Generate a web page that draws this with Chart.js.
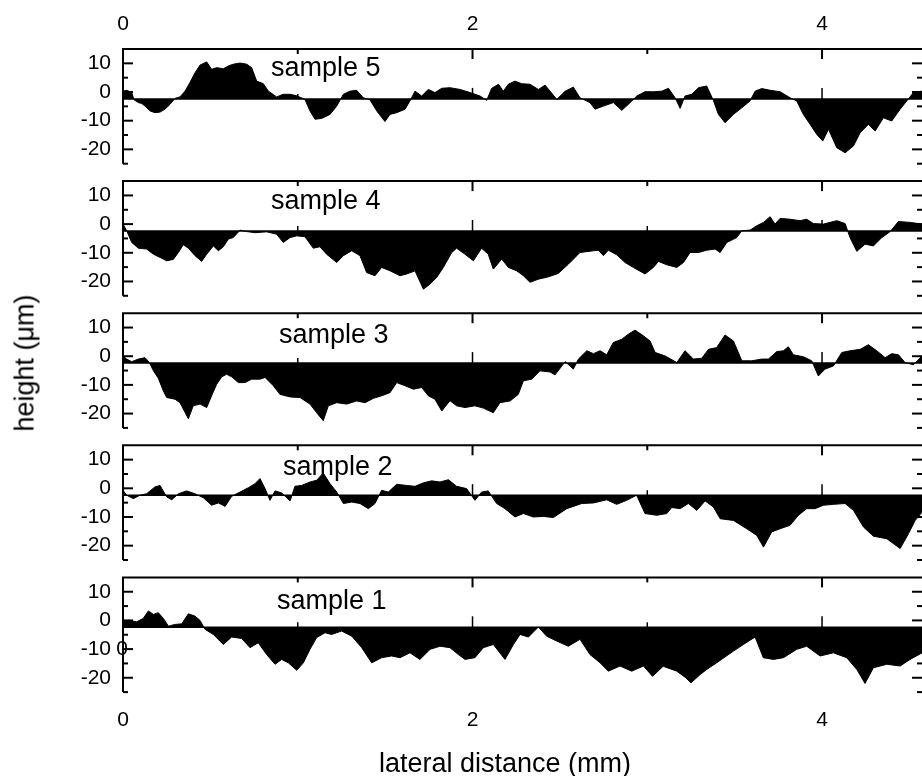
<!DOCTYPE html>
<html>
<head>
<meta charset="utf-8">
<title>surface height profiles</title>
<script src="https://cdn.jsdelivr.net/npm/chart.js@4.4.1/dist/chart.umd.min.js"></script>
<style>
  html, body { margin: 0; padding: 0; background: #fff; }
  #wrap { position: relative; width: 922px; height: 776px; overflow: hidden; }
  #wrap canvas { position: absolute; left: 0; top: 0; }
  .axis-title { position: absolute; font: 27px "Liberation Sans", Arial, sans-serif; line-height: 27px; color: #000; white-space: nowrap; }
  #xtitle { left: 505px; top: 750px; transform: translateX(-50%); }
  #ytitle { left: 25px; top: 363px; transform: translate(-50%, -50%) rotate(-90deg); }
</style>
</head>
<body>
<div id="wrap">
  <canvas id="c0" width="922" height="776"></canvas>
  <canvas id="c1" width="922" height="776"></canvas>
  <canvas id="c2" width="922" height="776"></canvas>
  <canvas id="c3" width="922" height="776"></canvas>
  <canvas id="c4" width="922" height="776"></canvas>
  <div id="ytitle" class="axis-title">height (μm)</div>
  <div id="xtitle" class="axis-title">lateral distance (mm)</div>
</div>
<script>
// profile data, lateral distance in mm, height in um
const sampleNames = ['sample 1', 'sample 2', 'sample 3', 'sample 4', 'sample 5'];

const dist1 = [0, 0.04, 0.078, 0.116, 0.145, 0.174, 0.202, 0.231, 0.26, 0.298, 0.336, 0.374, 0.412, 0.441, 0.469, 0.517, 0.574, 0.622, 0.679, 0.727, 0.774, 0.822, 0.87, 0.908, 0.946, 0.994, 1.032, 1.07, 1.108, 1.156, 1.194, 1.251, 1.309, 1.366, 1.423, 1.48, 1.537, 1.585, 1.642, 1.699, 1.757, 1.814, 1.871, 1.919, 1.957, 2.014, 2.062, 2.119, 2.186, 2.234, 2.272, 2.32, 2.377, 2.424, 2.482, 2.548, 2.615, 2.672, 2.73, 2.777, 2.844, 2.911, 2.978, 3.03, 3.091, 3.169, 3.22, 3.25, 3.3, 3.34, 3.397, 3.493, 3.55, 3.617, 3.664, 3.722, 3.779, 3.855, 3.912, 3.989, 4.065, 4.141, 4.199, 4.246, 4.294, 4.371, 4.447, 4.504, 4.573];
const height1 = [-0.2, 0, -0.5, 0.7, 3.3, 2.1, 2.7, 0.7, -2, -1.4, -1.2, 2.3, 1.5, 0, -3.1, -4.9, -8.4, -5.8, -6.3, -9.5, -7.8, -11.9, -15.3, -13.6, -14.8, -17.4, -14.8, -10.1, -6, -4.3, -4.9, -3.7, -5.5, -9.5, -14.8, -13, -12.4, -13, -11.3, -13.6, -10.1, -9, -9.5, -11.9, -13.6, -13, -9.5, -8.4, -13.6, -8.4, -4.9, -5.8, -2.3, -5.5, -7.2, -9, -6.6, -11.9, -14.8, -17.7, -15.9, -17.7, -15.9, -19.5, -16, -17.7, -20, -21.8, -19, -17.1, -14.8, -10.7, -8.4, -5.8, -13, -13.6, -13, -10.1, -9, -12.4, -11.3, -13, -17.1, -22, -16.5, -15.3, -15.9, -13.6, -11.3];

const dist2 = [0, 0.021, 0.059, 0.097, 0.135, 0.183, 0.212, 0.25, 0.279, 0.317, 0.364, 0.412, 0.46, 0.507, 0.546, 0.584, 0.622, 0.67, 0.717, 0.755, 0.784, 0.813, 0.841, 0.87, 0.908, 0.956, 0.984, 1.022, 1.07, 1.108, 1.146, 1.185, 1.223, 1.261, 1.309, 1.356, 1.404, 1.442, 1.48, 1.518, 1.566, 1.623, 1.671, 1.719, 1.766, 1.814, 1.862, 1.909, 1.966, 2.014, 2.052, 2.09, 2.138, 2.186, 2.243, 2.291, 2.348, 2.406, 2.463, 2.539, 2.625, 2.692, 2.768, 2.825, 2.882, 2.939, 2.987, 3.054, 3.112, 3.14, 3.188, 3.235, 3.283, 3.331, 3.378, 3.417, 3.493, 3.569, 3.626, 3.665, 3.712, 3.76, 3.817, 3.865, 3.912, 3.96, 4.008, 4.065, 4.132, 4.18, 4.237, 4.294, 4.371, 4.447, 4.495, 4.533, 4.573];
const height2 = [-0.7, -2.4, -3.6, -2.4, -1.9, 0.5, 1, -3, -4, -1.9, -0.9, -1.9, -3.3, -5.9, -5.1, -6.3, -2.8, -1.3, 0.2, 1.6, 3.4, -0.1, -4.2, -0.9, -1.6, -4.4, 0.7, 1, 2.2, 2.8, 5.3, 1.6, -1.3, -5.3, -4.8, -5.3, -7.1, -5.3, -0.7, -1.3, 1.4, 1, 0.7, 1.9, 2.6, 2.2, 3, 0.7, -0.1, -4.2, -1.3, -0.9, -5.3, -7.1, -10, -8.8, -10, -9.8, -10.2, -7.1, -5.3, -5.1, -4, -5.6, -4.2, -2.4, -8.8, -9.4, -8.8, -6.7, -7.1, -5.3, -7.7, -4.4, -6.5, -10.6, -11.2, -14.1, -16.4, -20.5, -15.2, -14.1, -12.9, -9.4, -7.1, -7.1, -5.9, -5.6, -5.3, -7.7, -13.5, -16.7, -17.6, -21, -15.8, -11.2, -8.3];

const dist3 = [0, 0.021, 0.05, 0.088, 0.126, 0.151, 0.174, 0.202, 0.231, 0.25, 0.298, 0.326, 0.374, 0.402, 0.441, 0.479, 0.507, 0.536, 0.565, 0.593, 0.622, 0.66, 0.698, 0.736, 0.784, 0.813, 0.86, 0.898, 0.956, 1.013, 1.07, 1.108, 1.146, 1.175, 1.223, 1.28, 1.337, 1.385, 1.433, 1.48, 1.528, 1.566, 1.614, 1.662, 1.709, 1.747, 1.785, 1.824, 1.871, 1.909, 1.957, 2.014, 2.062, 2.119, 2.157, 2.215, 2.262, 2.291, 2.339, 2.386, 2.444, 2.472, 2.53, 2.577, 2.606, 2.654, 2.692, 2.73, 2.768, 2.806, 2.854, 2.892, 2.93, 2.978, 3.016, 3.045, 3.102, 3.169, 3.216, 3.264, 3.312, 3.35, 3.397, 3.445, 3.493, 3.541, 3.598, 3.655, 3.693, 3.741, 3.779, 3.807, 3.836, 3.893, 3.941, 3.979, 4.017, 4.065, 4.113, 4.161, 4.218, 4.265, 4.313, 4.361, 4.399, 4.437, 4.475, 4.523, 4.573];
const height3 = [0.1, -1, -1.9, -1, -0.5, -2.2, -5.1, -7.7, -12.1, -14.4, -15, -16.2, -21.8, -17.3, -16.7, -17.9, -13.8, -9.8, -7.2, -6.3, -7.2, -9.2, -9.2, -8, -8, -7.4, -10.3, -13.3, -14.2, -14.4, -16.7, -19.7, -22.5, -17.3, -16.2, -16.7, -15.6, -16.2, -14.7, -13.8, -12.7, -9.2, -10.3, -11.5, -10.9, -13.8, -15, -19.1, -15.5, -17.3, -17.9, -17.3, -18.1, -19.7, -16.2, -15.6, -13.3, -8.6, -8, -5.1, -5.5, -6.5, -1.9, -4.5, -1, 1.9, 0.9, 1.9, 0.5, 4.8, 5.9, 7.7, 9.1, 7.1, 5.3, 1.3, 0.1, -2.2, 1.9, -1, -0.7, 2.4, 3, 7.4, 5.3, -1.6, -1.6, -1, -1, 1.6, 1.9, 3.3, 0.5, -0.2, -1.6, -6.9, -4.5, -3.4, 1.3, 1.9, 2.4, 4, 1.9, -0.5, 0.9, 0.5, -2.2, -3, 0.1];

const dist4 = [0, 0.021, 0.05, 0.088, 0.135, 0.174, 0.212, 0.25, 0.288, 0.317, 0.345, 0.374, 0.412, 0.45, 0.479, 0.517, 0.546, 0.574, 0.603, 0.631, 0.67, 0.708, 0.755, 0.822, 0.879, 0.917, 0.956, 0.994, 1.041, 1.089, 1.127, 1.165, 1.223, 1.261, 1.309, 1.356, 1.394, 1.442, 1.48, 1.528, 1.585, 1.623, 1.671, 1.719, 1.757, 1.795, 1.833, 1.881, 1.909, 1.957, 2.005, 2.052, 2.09, 2.119, 2.167, 2.205, 2.253, 2.291, 2.329, 2.377, 2.434, 2.491, 2.548, 2.615, 2.692, 2.72, 2.749, 2.777, 2.825, 2.873, 2.92, 2.987, 3.035, 3.064, 3.112, 3.169, 3.207, 3.245, 3.293, 3.34, 3.388, 3.417, 3.455, 3.512, 3.541, 3.588, 3.626, 3.665, 3.703, 3.731, 3.76, 3.817, 3.874, 3.912, 3.951, 4.008, 4.084, 4.132, 4.16, 4.199, 4.246, 4.294, 4.342, 4.39, 4.437, 4.504, 4.573];
const height4 = [0, -2.3, -6.4, -8.4, -8.7, -10.5, -11.6, -12.8, -12.3, -9.9, -7.2, -8.4, -11, -13, -10.5, -7.6, -9.3, -7.9, -5.2, -4.7, -2.1, -2.6, -3, -2.7, -3.5, -6.4, -4.7, -4.1, -4.4, -8.4, -7.9, -10.5, -13.4, -11, -9.3, -11, -16.9, -18, -15.1, -16.3, -18, -17.4, -16.3, -22.7, -20.9, -18.6, -15.1, -9.9, -8.4, -10.5, -12.8, -8.4, -10.5, -15.7, -12.2, -15.1, -16.3, -18, -20.3, -19.2, -18.4, -17.2, -14, -9.9, -9.3, -9.1, -11, -9.1, -10.7, -13.4, -15.1, -17.4, -15.1, -13, -14.2, -15.1, -13.4, -9.9, -9.9, -9.1, -8.7, -9.9, -6.4, -4.7, -2.3, -2.1, -0.6, 0.6, 2.6, 0, 2, 1.7, 1.2, 1.7, 0.2, 0, 1.2, 0.2, -4.7, -9.5, -7, -7.6, -4.7, -2.6, 0.9, 0.6, 0];

const dist5 = [0, 0.021, 0.05, 0.063, 0.088, 0.107, 0.126, 0.155, 0.183, 0.212, 0.24, 0.269, 0.298, 0.326, 0.355, 0.383, 0.412, 0.441, 0.479, 0.507, 0.536, 0.574, 0.603, 0.631, 0.67, 0.708, 0.736, 0.765, 0.803, 0.832, 0.879, 0.917, 0.956, 0.994, 1.041, 1.07, 1.099, 1.137, 1.185, 1.223, 1.261, 1.299, 1.337, 1.375, 1.413, 1.452, 1.499, 1.528, 1.566, 1.614, 1.642, 1.671, 1.709, 1.747, 1.785, 1.824, 1.871, 1.928, 1.986, 2.043, 2.081, 2.11, 2.149, 2.176, 2.205, 2.243, 2.281, 2.329, 2.377, 2.415, 2.444, 2.482, 2.53, 2.577, 2.615, 2.672, 2.701, 2.749, 2.806, 2.854, 2.892, 2.94, 2.987, 3.035, 3.083, 3.121, 3.159, 3.188, 3.216, 3.254, 3.293, 3.34, 3.378, 3.407, 3.445, 3.493, 3.541, 3.588, 3.617, 3.655, 3.703, 3.76, 3.817, 3.855, 3.893, 3.932, 3.97, 4.004, 4.037, 4.084, 4.132, 4.18, 4.218, 4.265, 4.304, 4.351, 4.399, 4.447, 4.485, 4.523, 4.573];
const height5 = [0.3, 0.6, -0.2, -2.7, -3.7, -4, -4.9, -6.6, -7.2, -7, -6, -4.3, -2.2, -1.7, 0.3, 3.3, 6.7, 9.4, 10.5, 7.9, 8.5, 8.1, 9.1, 9.7, 10.1, 9.7, 8.5, 3.8, 2.9, 0.3, -1.7, -0.8, -0.8, -1.3, -2.6, -6.6, -9.5, -9.2, -7.8, -4.9, -0.8, 0.3, 0.6, -2, -2.7, -6.6, -10.3, -7.8, -7.2, -6, -3.1, 0.3, -1.4, 0.9, -0.2, 1.3, 1.5, 0.9, -0.2, -1.4, -2.9, 1.3, 2.7, 0.3, 2.7, 3.8, 2.9, 2.7, 0.9, 2.4, 0.3, -2.6, 0.3, 1.7, -2, -3.7, -6, -4.9, -3.7, -6.4, -4.3, -1.4, 0.1, 0.1, 0.3, 1.3, -2, -5.7, -1.4, -0.8, 1.5, 2.1, -2.9, -7.8, -10.7, -7.8, -5.5, -3.1, 0.3, 1.2, 0.6, 0.1, -2, -3.1, -7.8, -11.3, -14.8, -17.1, -13, -19.4, -21.2, -18.8, -14.2, -11.3, -13.6, -9, -10.1, -6, -3.1, -0.2, 0.3];

// axis ticks
const xLabelTicks = [0, 2, 4];
const xMinorTicks = [1, 3];
const yLabelTicks = [10, 0, -10, -20];
const yMinorTicks = [5, -5, -15, -25];

const X_MAX = 4.572, Y_MIN = -25, Y_MAX = 15;
const BASELINE = -2.4;   // level the profiles are filled from

// page layout
const W = 922, H = 776;
const PLOT_LEFT = 123, PANEL_TOP = 49, PANEL_STEP = 132.1, PANEL_H = 114.7;
const FONT = '"Liberation Sans", Arial, sans-serif';

// panels from top to bottom
const panels = [
  { name: sampleNames[4], dist: dist5, height: height5, dx: 148, dy: 27 },
  { name: sampleNames[3], dist: dist4, height: height4, dx: 148, dy: 28 },
  { name: sampleNames[2], dist: dist3, height: height3, dx: 156, dy: 29.3 },
  { name: sampleNames[1], dist: dist2, height: height2, dx: 160, dy: 30 },
  { name: sampleNames[0], dist: dist1, height: height1, dx: 154, dy: 32 }
];

function seg(ctx, x1, y1, x2, y2) {
  ctx.beginPath();
  ctx.moveTo(x1, y1);
  ctx.lineTo(x2, y2);
  ctx.stroke();
}

// frame, inward ticks, zero line and sample name for one panel
const framePlugin = {
  id: 'frame',
  afterDatasetsDraw(chart, args, opts) {
    const { ctx, chartArea: a, scales: { x, y } } = chart;
    ctx.save();
    ctx.strokeStyle = '#000';
    ctx.lineWidth = 2;
    seg(ctx, a.left - 1, a.top, a.right, a.top);
    seg(ctx, a.left, a.top, a.left, a.bottom);
    xLabelTicks.forEach(v => { const px = x.getPixelForValue(v); seg(ctx, px, a.top, px, a.top + 10); });
    xMinorTicks.forEach(v => { const px = x.getPixelForValue(v); seg(ctx, px, a.top, px, a.top + 5); });
    yLabelTicks.forEach(v => {
      const py = y.getPixelForValue(v);
      seg(ctx, a.left, py, a.left + 10, py);
      seg(ctx, a.right, py, a.right - 10, py);
    });
    yMinorTicks.forEach(v => {
      const py = y.getPixelForValue(v);
      seg(ctx, a.left, py, a.left + 5, py);
      seg(ctx, a.right, py, a.right - 5, py);
    });

    const yb = y.getPixelForValue(BASELINE);
    ctx.lineWidth = 1.5;
    seg(ctx, a.left, yb, a.right, yb);
    xLabelTicks.forEach(v => { const px = x.getPixelForValue(v); seg(ctx, px, yb, px, yb - 11); });
    xMinorTicks.forEach(v => { const px = x.getPixelForValue(v); seg(ctx, px, yb, px, yb - 5); });

    ctx.fillStyle = '#000';
    ctx.font = '27px ' + FONT;
    ctx.textAlign = 'left';
    ctx.textBaseline = 'alphabetic';
    ctx.fillText(opts.label, a.left + opts.dx, a.top + opts.dy);

    if (opts.stray) {
      // stray "0" sitting on the lowest panel's axis
      ctx.font = '21px ' + FONT;
      ctx.textAlign = 'center';
      ctx.textBaseline = 'middle';
      ctx.fillText('0', a.left - 1, y.getPixelForValue(-10));
    }
    ctx.restore();
  }
};

panels.forEach((p, i) => {
  const top = PANEL_TOP + i * PANEL_STEP;
  const bottom = top + PANEL_H;
  const first = i === 0, last = i === panels.length - 1;

  new Chart(document.getElementById('c' + i), {
    type: 'line',
    data: {
      datasets: [{
        data: p.dist.map((d, k) => ({ x: d, y: p.height[k] })),
        fill: { value: BASELINE },
        backgroundColor: '#000',
        borderColor: '#000',
        borderWidth: 1,
        pointRadius: 0,
        tension: 0
      }]
    },
    options: {
      responsive: false,
      animation: false,
      events: [],
      layout: {
        padding: { left: 0, right: 0, top: first ? 0 : top, bottom: last ? 0 : H - bottom }
      },
      plugins: {
        legend: { display: false },
        tooltip: { enabled: false },
        frame: { label: p.name, dx: p.dx, dy: p.dy, stray: last }
      },
      scales: {
        x: {
          type: 'linear',
          min: 0,
          max: X_MAX,
          display: first || last,
          position: first ? 'top' : 'bottom',
          afterFit(s) {
            if (first) s.height = top;
            else if (last) s.height = H - bottom;
          },
          afterBuildTicks(s) { s.ticks = xLabelTicks.map(v => ({ value: v })); },
          grid: { display: false, drawTicks: false, tickLength: 0 },
          border: { display: false },
          ticks: {
            color: '#000',
            font: { family: FONT, size: 21 },
            padding: first ? 12.4 : 15.4,
            maxRotation: 0,
            autoSkip: false,
            callback: v => String(v)
          }
        },
        y: {
          min: Y_MIN,
          max: Y_MAX,
          afterFit(s) { s.width = PLOT_LEFT; },
          afterBuildTicks(s) { s.ticks = yLabelTicks.map(v => ({ value: v })); },
          grid: { display: false, drawTicks: false, tickLength: 0 },
          border: { display: false },
          ticks: {
            color: '#000',
            font: { family: FONT, size: 21 },
            padding: 12,
            autoSkip: false,
            callback: v => String(v)
          }
        }
      }
    },
    plugins: [framePlugin]
  });
});
</script>
</body>
</html>
